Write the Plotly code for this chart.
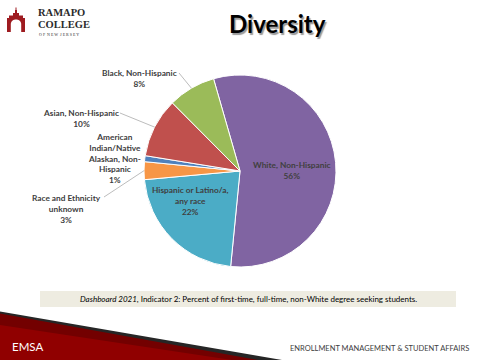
import math
import plotly.graph_objects as go

# ---- data ----
categories = ["White, Non-Hispanic", "Hispanic or Latino/a, any race",
              "Race and Ethnicity unknown", "American Indian/Native Alaskan, Non-Hispanic",
              "Asian, Non-Hispanic", "Black, Non-Hispanic"]
values = [56, 22, 3, 1, 10, 8]
label_texts = ["White, Non-Hispanic<br>56%",
               "Hispanic or Latino/a,<br>any race<br>22%",
               "Race and Ethnicity<br>unknown<br>3%",
               "American<br>Indian/Native<br>Alaskan, Non-<br>Hispanic<br>1%",
               "Asian, Non-Hispanic<br>10%",
               "Black, Non-Hispanic<br>8%"]
colors = ["#8064A2", "#4BACC6", "#F79646", "#4F81BD", "#C0504D", "#9BBB59"]

W, H = 480, 360
def X(px): return px / W
def Y(py): return 1 - py / H

ROT = -16
CX, CY, R = 240, 171, 96

fig = go.Figure()
fig.add_trace(go.Pie(
    labels=categories, values=values, sort=False, direction="clockwise",
    rotation=ROT, textinfo="none", hoverinfo="label+percent",
    marker=dict(colors=colors, line=dict(color="white", width=1)),
    domain=dict(x=[X(CX - R), X(CX + R)], y=[Y(CY + R), Y(CY - R)]),
    showlegend=False,
))

shapes = []
annotations = []

def path(points, close=True):
    s = "M " + " L ".join(f"{X(a):.5f},{Y(b):.5f}" for a, b in points)
    return s + (" Z" if close else "")

# ---- bottom swoosh ----
shapes.append(dict(type="path", xref="paper", yref="paper", layer="below",
                   path=path([(0, 311.5), (282, 360), (0, 360)]),
                   fillcolor="#262626", line=dict(width=0)))
shapes.append(dict(type="path", xref="paper", yref="paper", layer="below",
                   path=path([(0, 313.5), (258, 360), (0, 360)]),
                   fillcolor="#730000", line=dict(width=0)))
shapes.append(dict(type="path", xref="paper", yref="paper", layer="below",
                   path=path([(0, 325), (232, 360), (0, 360)]),
                   fillcolor="#900000", line=dict(width=0)))

# ---- caption box ----
shapes.append(dict(type="rect", xref="paper", yref="paper", layer="below",
                   x0=X(40), x1=X(456), y0=Y(307), y1=Y(291),
                   fillcolor="#EEECE1", line=dict(width=0)))

# ---- logo ----
outer = [(7, 32), (7, 18), (9, 18), (9, 15.5), (13, 15.5), (13, 13), (15, 13), (15, 10),
         (17, 10), (17, 13), (19, 13), (19, 15.5), (23, 15.5), (23, 18), (25, 18), (25, 32)]
shapes.append(dict(type="path", xref="paper", yref="paper", layer="above",
                   path=path(outer), fillcolor="#9E1B20", line=dict(width=0)))
shapes.append(dict(type="rect", xref="paper", yref="paper", layer="above",
                   x0=X(15.5), x1=X(16.5), y0=Y(10), y1=Y(7.5),
                   fillcolor="#9E1B20", line=dict(width=0)))
arch = [(10.8, 32), (10.8, 24)]
for k in range(0, 19):
    t = math.pi - k * math.pi / 18
    arch.append((16 + 5.2 * math.cos(t), 24 - 4.5 * math.sin(t)))
arch += [(21.2, 24), (21.2, 32)]
shapes.append(dict(type="path", xref="paper", yref="paper", layer="above",
                   path=path(arch), fillcolor="white", line=dict(width=0)))

annotations.append(dict(text="<b>RAMAPO</b>", x=X(37), y=Y(13), xanchor="left", yanchor="middle",
                        font=dict(family="Liberation Serif", size=10.5, color="#2b2b2b"),
                        showarrow=False, xref="paper", yref="paper", borderpad=0))
annotations.append(dict(text="<b>COLLEGE</b>", x=X(37), y=Y(25), xanchor="left", yanchor="middle",
                        font=dict(family="Liberation Serif", size=10.5, color="#2b2b2b"),
                        showarrow=False, xref="paper", yref="paper", borderpad=0))
annotations.append(dict(text="O F  N E W  J E R S E Y", x=X(38), y=Y(34), xanchor="left", yanchor="middle",
                        font=dict(family="Liberation Serif", size=4, color="#2b2b2b"),
                        showarrow=False, xref="paper", yref="paper", borderpad=0))

# ---- title ----
annotations.append(dict(text="<b>Diversity</b>", x=X(277), y=Y(24), xanchor="center", yanchor="middle",
                        font=dict(family="Lato", size=24, color="#000000",
                                  shadow="1.5px 1.5px 1px #9a9a9a"),
                        showarrow=False, xref="paper", yref="paper"))

# ---- pie labels ----
label_pos = [(292, 170), (190, 201), (66, 209), (114, 158.5), (81, 118.5), (139, 78.5)]
leader_start = [None, None, (104, 197), None, (120, 113), (179, 73)]
total = sum(values)
cum = 0
for i, v in enumerate(values):
    mid = ROT + (cum + v / 2) / total * 360
    cum += v
    lx, ly = label_pos[i]
    annotations.append(dict(text="<b>" + label_texts[i] + "</b>", x=X(lx), y=Y(ly),
                            xanchor="center", yanchor="middle",
                            font=dict(family="Lato", size=8.3, color="#404040"),
                            showarrow=False, xref="paper", yref="paper"))
    if leader_start[i] is not None:
        ex = CX + R * math.sin(math.radians(mid))
        ey = CY - R * math.cos(math.radians(mid))
        sx, sy = leader_start[i]
        shapes.append(dict(type="line", xref="paper", yref="paper", layer="above",
                           x0=X(sx), y0=Y(sy), x1=X(ex), y1=Y(ey),
                           line=dict(color="#A6A6A6", width=0.75)))

# ---- caption and footer ----
annotations.append(dict(text="<i>Dashboard 2021</i>, Indicator 2: Percent of first-time, full-time, non-White degree seeking students.",
                        x=X(248), y=Y(299), xanchor="center", yanchor="middle",
                        font=dict(family="Lato", size=8, color="#000000"),
                        showarrow=False, xref="paper", yref="paper"))
annotations.append(dict(text="EMSA", x=X(10), y=Y(346), xanchor="left", yanchor="middle",
                        font=dict(family="Lato", size=11.5, color="#FFFFFF"),
                        showarrow=False, xref="paper", yref="paper"))
annotations.append(dict(text="ENROLLMENT MANAGEMENT &amp; STUDENT AFFAIRS", x=X(471), y=Y(348),
                        xanchor="right", yanchor="middle",
                        font=dict(family="Lato", size=7.5, color="#404040"),
                        showarrow=False, xref="paper", yref="paper"))

fig.update_layout(width=W, height=H, margin=dict(l=0, r=0, t=0, b=0),
                  paper_bgcolor="white", plot_bgcolor="white",
                  shapes=shapes, annotations=annotations)
fig.write_html("out.html", config={"displayModeBar": False},
               post_script="document.body.style.margin='0';document.body.style.overflow='hidden';")
